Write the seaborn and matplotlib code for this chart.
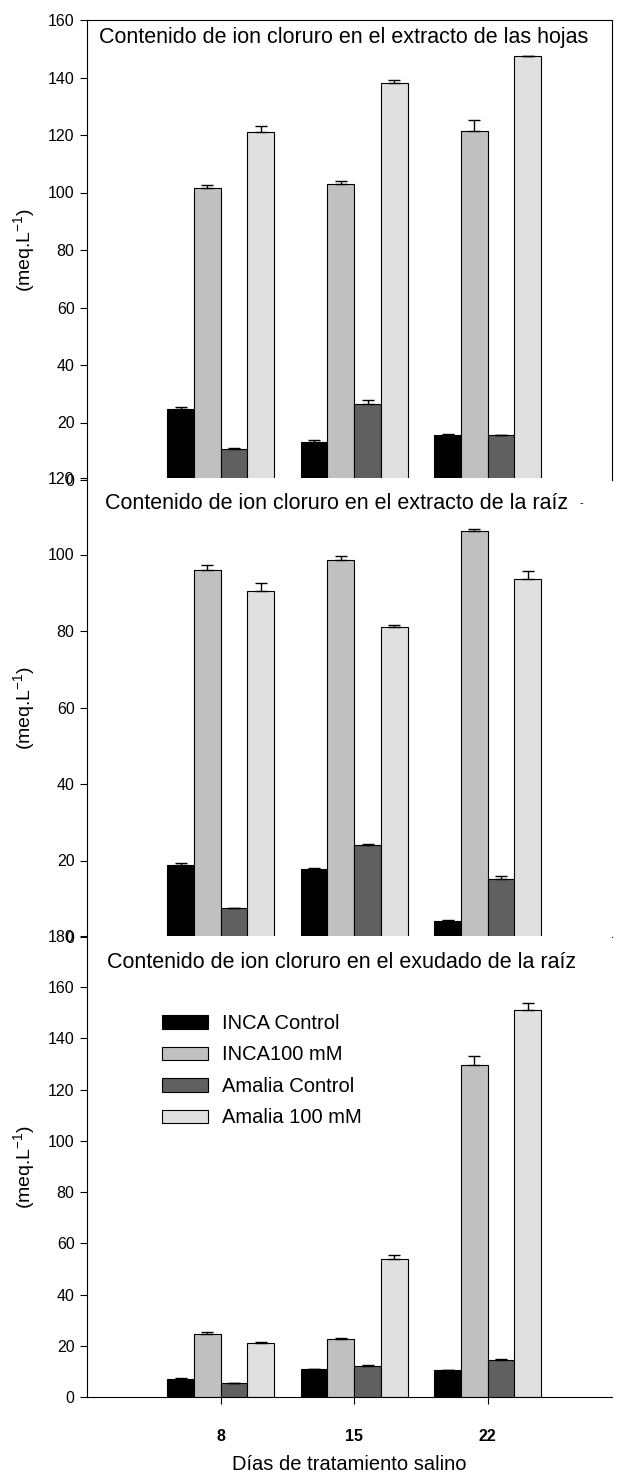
import numpy as np
import pandas as pd
import matplotlib
matplotlib.use("Agg")
import matplotlib.pyplot as plt
import seaborn as sns

# ---------------- data ----------------
days = ["8", "15", "22"]
series = ["INCA Control", "INCA100 mM", "Amalia Control", "Amalia 100 mM"]
colors = ["#000000", "#c0c0c0", "#606060", "#e0e0e0"]

# Panel 1: extracto de las hojas
hojas_inca_control = [24.8, 13.3, 15.5]
hojas_inca_100 = [101.5, 103.0, 121.3]
hojas_amalia_control = [10.7, 26.6, 15.5]
hojas_amalia_100 = [121.0, 138.0, 147.4]
hojas_err_inca_control = [0.5, 0.5, 0.4]
hojas_err_inca_100 = [1.0, 1.0, 4.0]
hojas_err_amalia_control = [0.3, 1.2, 0.3]
hojas_err_amalia_100 = [2.0, 1.0, 0.2]

# Panel 2: extracto de la raíz
raiz_inca_control = [18.8, 17.8, 4.2]
raiz_inca_100 = [96.0, 98.5, 106.2]
raiz_amalia_control = [7.5, 24.0, 15.2]
raiz_amalia_100 = [90.5, 81.0, 93.7]
raiz_err_inca_control = [0.6, 0.2, 0.3]
raiz_err_inca_100 = [1.2, 1.0, 0.5]
raiz_err_amalia_control = [0.1, 0.3, 0.8]
raiz_err_amalia_100 = [2.0, 0.5, 2.1]

# Panel 3: exudado de la raíz
exu_inca_control = [7.0, 10.8, 10.4]
exu_inca_100 = [24.5, 22.8, 129.5]
exu_amalia_control = [5.3, 12.1, 14.5]
exu_amalia_100 = [21.0, 54.0, 151.3]
exu_err_inca_control = [0.5, 0.3, 0.3]
exu_err_inca_100 = [0.7, 0.3, 3.5]
exu_err_amalia_control = [0.2, 0.4, 0.3]
exu_err_amalia_100 = [0.4, 1.5, 2.5]

titles = [
    "Contenido de ion cloruro en el extracto de las hojas",
    "Contenido de ion cloruro en el extracto de la raíz",
    "Contenido de ion cloruro en el exudado de la raíz",
]
ylabel = "(meq.L$^{-1}$)"
xlabel = "Días de tratamiento salino"

# ---------------- style ----------------
sns.set_style("ticks")
plt.rcParams["font.family"] = ["Liberation Sans", "DejaVu Sans"]
plt.rcParams["mathtext.fontset"] = "custom"
plt.rcParams["mathtext.rm"] = "Liberation Sans"
plt.rcParams["mathtext.it"] = "Liberation Sans"
plt.rcParams["text.color"] = "black"
plt.rcParams["axes.labelcolor"] = "black"
plt.rcParams["xtick.color"] = "black"
plt.rcParams["ytick.color"] = "black"
plt.rcParams["axes.edgecolor"] = "black"

W, H = 622, 1479
fig = plt.figure(figsize=(W / 100, H / 100), dpi=100)


def rect(top_px, bot_px, left_px=87, right_px=612):
    return [left_px / W, 1 - bot_px / H, (right_px - left_px) / W, (bot_px - top_px) / H]


def make_df(vals):
    rows = []
    for s, v in zip(series, vals):
        for d, x in zip(days, v):
            rows.append({"day": d, "value": x, "series": s})
    return pd.DataFrame(rows)


panels = [
    dict(rect=rect(20, 480), vals=[hojas_inca_control, hojas_inca_100, hojas_amalia_control, hojas_amalia_100],
         errs=[hojas_err_inca_control, hojas_err_inca_100, hojas_err_amalia_control, hojas_err_amalia_100],
         ymax=160, box=True, last=False, title_xy=(99, 43)),
    dict(rect=rect(478, 937), vals=[raiz_inca_control, raiz_inca_100, raiz_amalia_control, raiz_amalia_100],
         errs=[raiz_err_inca_control, raiz_err_inca_100, raiz_err_amalia_control, raiz_err_amalia_100],
         ymax=120, box=False, last=False, title_xy=(105, 509)),
    dict(rect=rect(936, 1397), vals=[exu_inca_control, exu_inca_100, exu_amalia_control, exu_amalia_100],
         errs=[exu_err_inca_control, exu_err_inca_100, exu_err_amalia_control, exu_err_amalia_100],
         ymax=180, box=False, last=True, title_xy=(107, 968)),
]

for i, p in enumerate(panels):
    ax = fig.add_axes(p["rect"])
    df = make_df(p["vals"])
    sns.barplot(data=df, x="day", y="value", hue="series", order=days, hue_order=series,
                palette=colors, saturation=1, edgecolor="black", linewidth=0.8,
                width=0.8, errorbar=None, ax=ax, legend=p["last"])
    for cont, errs in zip(ax.containers, p["errs"]):
        for bar, e in zip(cont, errs):
            x = bar.get_x() + bar.get_width() / 2
            h = bar.get_height()
            ax.errorbar(x, h, yerr=[[0], [e]], color="black", capsize=4,
                        elinewidth=1, capthick=1, fmt="none", zorder=3)
    ax.set_xlim(-1.0, 2.93)
    ax.set_ylim(0, p["ymax"])
    ax.set_yticks(np.arange(0, p["ymax"] + 1, 20))
    ax.tick_params(axis="y", direction="out", length=5, width=0.8, labelsize=11.5, pad=4)
    ax.set_ylabel(ylabel, fontsize=14)
    ax.yaxis.set_label_coords(-0.095, 0.5)
    for s in ax.spines.values():
        s.set_linewidth(0.8)
        s.set_color("black")
    if not p["box"]:
        ax.spines["top"].set_visible(False)
        ax.spines["right"].set_visible(False)
    if p["last"]:
        ax.tick_params(axis="x", direction="out", length=5, width=0.8, pad=18)
        for lab in ax.get_xticklabels():
            lab.set_fontweight("bold")
            lab.set_fontsize(11.5)
        ax.set_xlabel(xlabel, fontsize=14.5, labelpad=8)
        handles, labels = ax.get_legend_handles_labels()
        if ax.get_legend() is not None:
            ax.get_legend().remove()
        ax.legend(handles, labels, loc="upper left",
                  bbox_to_anchor=(162 / W, 1 - 1014 / H), bbox_transform=fig.transFigure,
                  frameon=False, fontsize=14.5, handlelength=2.3, handleheight=0.65,
                  handletextpad=0.7, labelspacing=0.62, borderpad=0, borderaxespad=0)
    else:
        ax.tick_params(axis="x", direction="in", length=5, width=0.8, labelbottom=False)
        ax.set_xlabel("")
    tx, ty = p["title_xy"]
    fig.text(tx / W, 1 - ty / H, titles[i], fontsize=15.5, ha="left", va="baseline")

# small stray mark after the middle title
fig.text(580 / W, 1 - 506 / H, "-", fontsize=8, ha="left", va="baseline")

fig.savefig("out.png", dpi=100)
